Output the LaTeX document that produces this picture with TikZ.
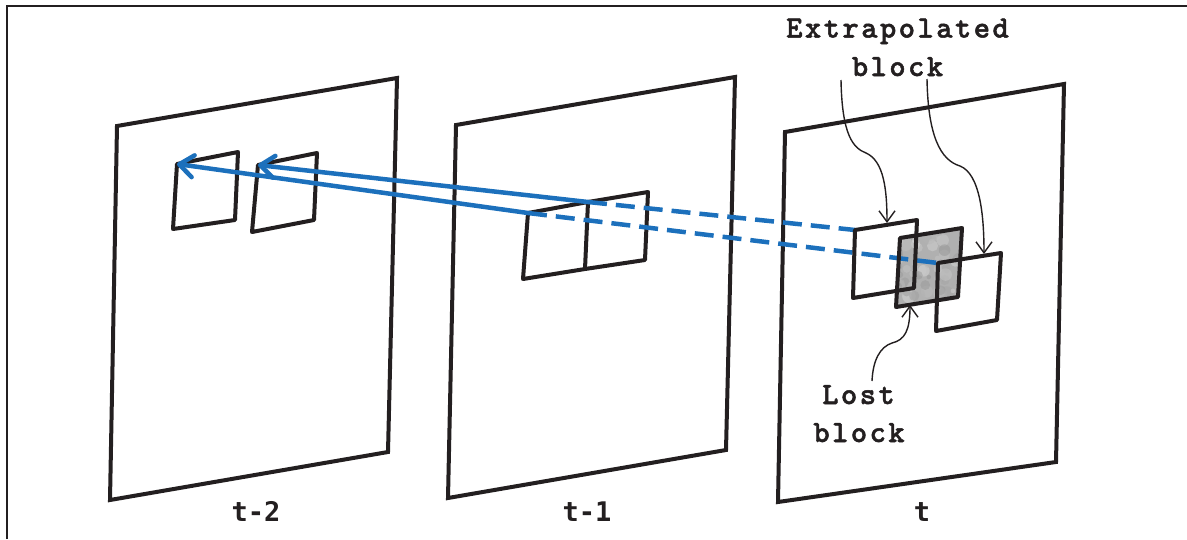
\documentclass[tikz,border=0pt]{standalone}
\usepackage{fontspec}
\newfontfamily\calloutfont{lmmonolt10-bold.otf}[LetterSpace=8, FakeBold=1.6]
\newfontfamily\framefont{DejaVu Sans Mono}
\usetikzlibrary{arrows.meta}
\definecolor{mvblue}{RGB}{28,112,188}
\definecolor{inkblack}{RGB}{35,31,32}

\tikzset{
  framequad/.style={draw=inkblack, line width=4pt, line join=miter},
  blockquad/.style={draw=inkblack, line width=4pt, line join=round},
  motionvec/.style={draw=mvblue, line width=4.5pt, line cap=round,
    -{Straight Barb[length=14pt,width=22pt,round]}},
  extrapvec/.style={draw=mvblue, line width=4.5pt, dash pattern=on 19pt off 9pt},
  callout/.style={draw=inkblack, line width=1.4pt,
    -{Straight Barb[length=11pt,width=16pt]}},
  calltext/.style={anchor=base, inner sep=0pt, text=inkblack,
    font=\fontsize{31}{36}\selectfont\calloutfont},
  frametext/.style={anchor=base, inner sep=0pt, text=inkblack,
    font=\fontsize{27}{32}\selectfont\framefont\bfseries},
}

\begin{document}
\begin{tikzpicture}[x=1pt, y=-1pt]

  %% ════ 外框（只有上边和左边）════
  \draw[inkblack, line width=1.5pt] (7,539) -- (7,6) -- (1187,6);

  %% ════ 三帧 ════
  \draw[framequad] (117,126) -- (397,78) -- (388,452) -- (110,500) -- cycle;
  \draw[framequad] (456,125) -- (735,77) -- (726,450) -- (448,498) -- cycle;
  \draw[framequad] (785,132) -- (1064,84) -- (1056,462) -- (778,502) -- cycle;

  %% ════ 块的角点 ════
  % t-2
  \coordinate (A-tl) at (177,164);
  \coordinate (B-tl) at (258,165);
  % t-1
  \coordinate (L-tl) at (528,213);
  \coordinate (L-tr) at (588,202);
  % t
  \coordinate (E1-tl) at (855,230);
  \coordinate (E2-tl) at (938,263);
  \coordinate (lost-bm) at (910,305);
  \coordinate (E1-top) at (887,223);
  \coordinate (E2-top) at (984,254);

  %% ════ t-2 / t-1 的块 ════
  \draw[blockquad] (A-tl) -- (238,152) -- (235,220) -- (173,229) -- cycle;
  \draw[blockquad] (B-tl) -- (317,153) -- (314,220) -- (252,232) -- cycle;
  \draw[blockquad] (L-tl) -- (L-tr) -- (585,269) -- (523,279) -- cycle;
  \draw[blockquad] (L-tr) -- (648,192) -- (645,260) -- (585,269);

  %% ════ 丢失块：灰色纹理 ════
  \begin{scope}
    \clip (900,238) -- (962,228) -- (958,297) -- (896,307) -- cycle;
    \fill[gray!62] (890,220) rectangle (970,315);
    \pgfmathsetseed{11}
    \foreach \k in {1,...,80}{
      \pgfmathtruncatemacro\shade{30+55*rnd}
      \fill[gray!\shade, opacity=.5] ({896+66*rnd},{228+80*rnd}) circle ({2+5*rnd});
    }
  \end{scope}

  %% ════ 外推（虚线）════
  \draw[extrapvec] (L-tr) -- (E1-tl);
  \draw[extrapvec] (L-tl) -- (E2-tl);

  %% ════ t 帧的块 ════
  \draw[blockquad] (E1-tl) -- (917,220) -- (914,288) -- (853,298) -- cycle;
  \draw[blockquad] (900,238) -- (962,228) -- (958,297) -- (896,307) -- cycle;
  \draw[blockquad] (E2-tl) -- (1001,253) -- (997,320) -- (936,331) -- cycle;

  %% ════ 运动矢量（实线箭头）════
  \draw[motionvec] (L-tr) -- (B-tl);
  \draw[motionvec] (L-tl) -- (A-tl);

  %% ════ 文字 ════
  \node[calltext] (extrap1) at (897.5,37.5) {Extrapolated};
  \node[calltext] (extrap2) at (897.5,76) {block};
  \node[calltext] (lost1) at (858.5,404) {Lost};
  \node[calltext] (lost2) at (859,442) {block};
  \node[frametext] (lbl-t2) at (256,521) {t-2};
  \node[frametext] (lbl-t1) at (587,521) {t-1};
  \node[frametext] (lbl-t) at (922,521) {t};

  %% ════ 标注曲线 ════
  \coordinate (c1) at (841,80);
  \coordinate (c2) at (927,79);
  \coordinate (c3) at (872,381);
  \draw[callout] (c1) .. controls (842,135) and (853,148) .. (866,153)
                      .. controls (884,161) and (887,190) .. (E1-top);
  \draw[callout] (c2) .. controls (928,135) and (940,160) .. (960,166)
                      .. controls (980,174) and (984,215) .. (E2-top);
  \draw[callout] (c3) .. controls (873,360) and (880,347) .. (892,343)
                      .. controls (905,340) and (910,330) .. (lost-bm);

  % 钉死画布
  \pgfresetboundingbox
  \path[use as bounding box] (0,0) rectangle (1187,539);
\end{tikzpicture}
\end{document}
